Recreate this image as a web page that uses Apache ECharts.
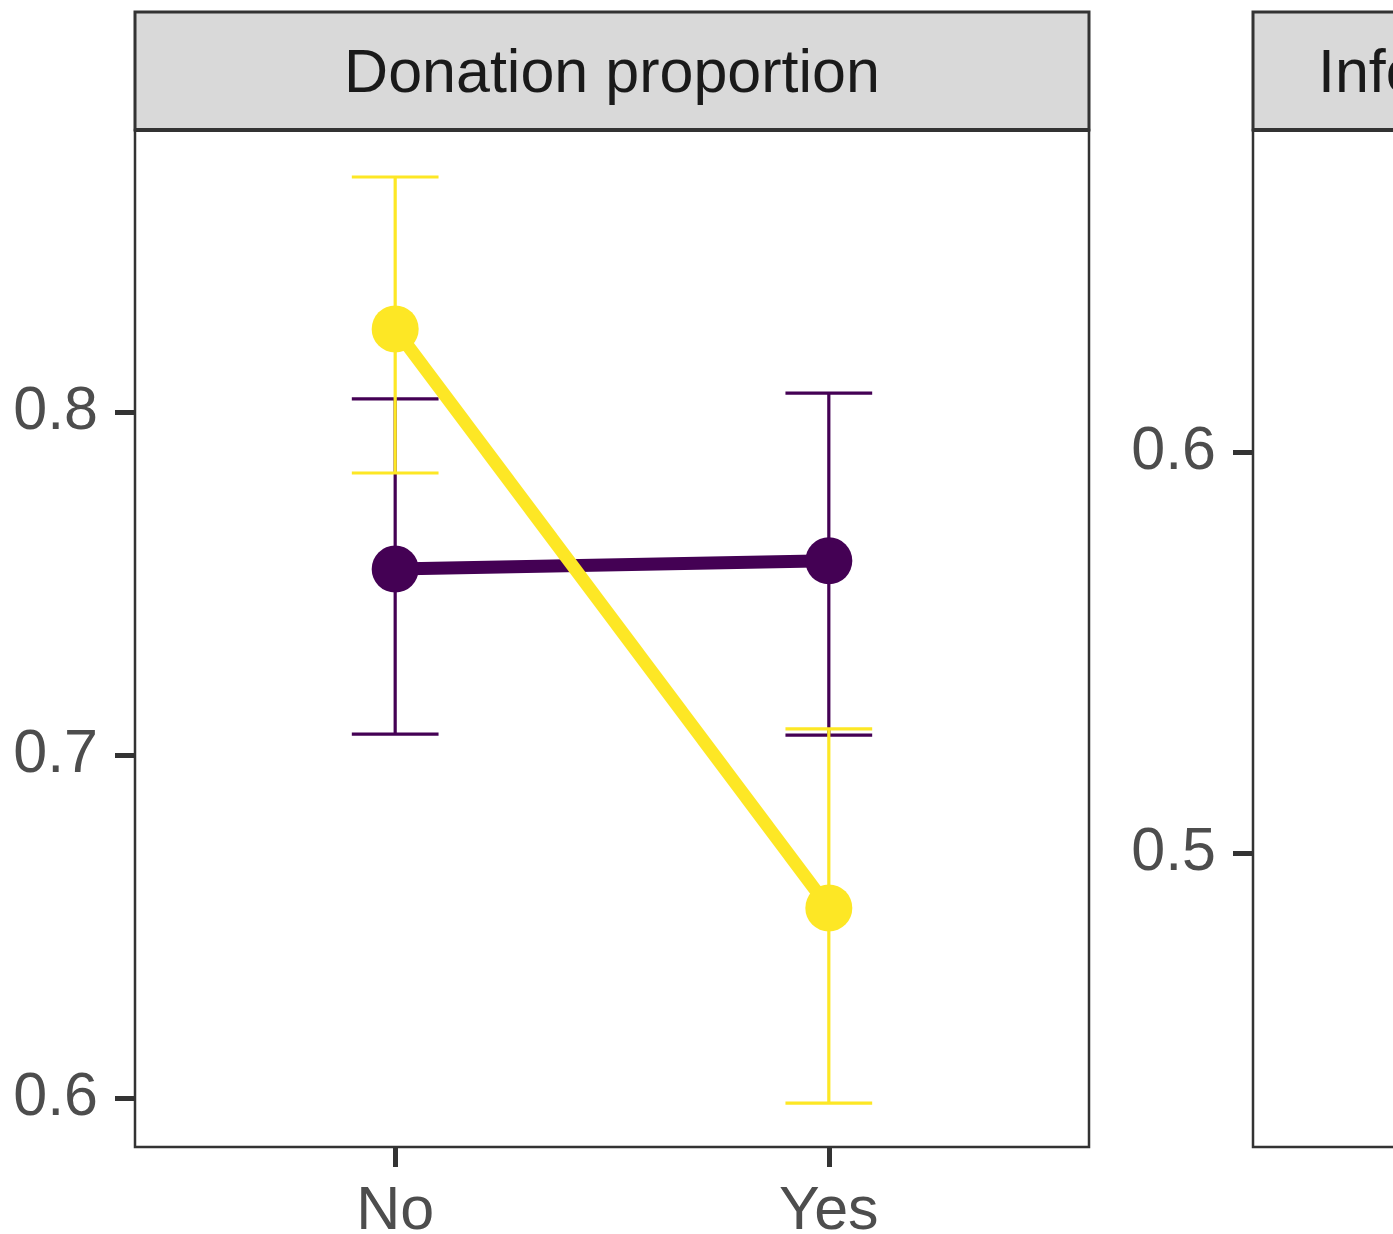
<!DOCTYPE html>
<html>
<head>
<meta charset="utf-8">
<style>
html,body{margin:0;padding:0;background:#fff;}
#chart{width:1393px;height:1234px;}
</style>
<script src="https://cdn.jsdelivr.net/npm/echarts@6/dist/echarts.min.js"></script>
</head>
<body>
<div id="chart"></div>
<script>
// ---- data ----
var categories = ['No', 'Yes'];
var panelTitles = ['Donation proportion', 'Information'];
var groupColors = ['#440154', '#FDE725'];
// group A (purple)
var meanA = [0.7542, 0.7566];
var lowA  = [0.7061, 0.7058];
var highA = [0.8038, 0.8055];
// group B (yellow)
var meanB = [0.8242, 0.6554];
var lowB  = [0.7822, 0.5985];
var highB = [0.8685, 0.7076];
// tick labels
var yTicks1 = [0.6, 0.7, 0.8];
var yTicks2 = [0.5, 0.6];

var chart = echarts.init(document.getElementById('chart'));
var FONT = 'Liberation Sans, Arial, Helvetica, sans-serif';

function errData(low, high) {
  return categories.map(function (c, i) { return [i + 1, low[i], high[i]]; });
}
function meanData(mean) {
  return categories.map(function (c, i) { return [i + 1, mean[i]]; });
}
function errSeries(low, high, color) {
  return {
    type: 'custom', xAxisIndex: 0, yAxisIndex: 0, z: 2,
    data: errData(low, high),
    encode: { x: 0, y: [1, 2] },
    renderItem: function (params, api) {
      var x = api.value(0);
      var lo = api.coord([x, api.value(1)]);
      var hi = api.coord([x, api.value(2)]);
      var w = api.size([0.2, 0])[0];
      var st = { stroke: color, lineWidth: 3.2 };
      return { type: 'group', children: [
        { type: 'line', shape: { x1: lo[0], y1: lo[1], x2: hi[0], y2: hi[1] }, style: st },
        { type: 'line', shape: { x1: hi[0] - w / 2, y1: hi[1], x2: hi[0] + w / 2, y2: hi[1] }, style: st },
        { type: 'line', shape: { x1: lo[0] - w / 2, y1: lo[1], x2: lo[0] + w / 2, y2: lo[1] }, style: st }
      ]};
    }
  };
}
function lineSeries(mean, color) {
  return { type: 'line', xAxisIndex: 0, yAxisIndex: 0, z: 3, data: meanData(mean),
    showSymbol: false, symbol: 'none', lineStyle: { color: color, width: 13 }, silent: true, animation: false };
}
function pointSeries(mean, color) {
  return { type: 'scatter', xAxisIndex: 0, yAxisIndex: 0, z: 4, data: meanData(mean),
    symbol: 'circle', symbolSize: 47, itemStyle: { color: color, opacity: 1 }, animation: false };
}

var axisTickStyle = { show: true, inside: false, length: 20, lineStyle: { color: '#333333', width: 5 } };
function xAxis(gi, show) {
  return {
    type: 'value', gridIndex: gi, min: 0.4, max: 2.6,
    axisLine: { show: false }, splitLine: { show: false },
    axisTick: Object.assign({ customValues: [1, 2] }, axisTickStyle, { show: show }),
    axisLabel: { show: show, customValues: [1, 2], margin: 35, fontSize: 61, fontFamily: FONT, color: '#4d4d4d',
      formatter: function (v) { return categories[Math.round(v) - 1] || ''; } }
  };
}
function yAxis(gi, min, max, ticks) {
  return {
    type: 'value', gridIndex: gi, min: min, max: max,
    axisLine: { show: false }, splitLine: { show: false },
    axisTick: Object.assign({ customValues: ticks }, axisTickStyle),
    axisLabel: { show: true, customValues: ticks, margin: 37, fontSize: 61, fontFamily: FONT, color: '#4d4d4d',
      formatter: function (v) { return v.toFixed(1); } }
  };
}

var panelW = 954, panelTop = 130, panelH = 1017, stripTop = 12;
var lefts = [135, 1253];

var graphics = [];
lefts.forEach(function (l, i) {
  graphics.push({ type: 'rect', z: 10, shape: { x: l, y: stripTop, width: panelW, height: panelTop - stripTop },
    style: { fill: '#d9d9d9', stroke: '#333333', lineWidth: 3 } });
  graphics.push({ type: 'line', z: 11, shape: { x1: l, y1: panelTop, x2: l + panelW, y2: panelTop },
    style: { stroke: '#333333', lineWidth: 4 } });
});
graphics.push({ type: 'text', z: 12, x: lefts[0] + panelW / 2, y: 75,
  style: { text: panelTitles[0], fill: '#1a1a1a', font: '61px ' + FONT, textAlign: 'center', textVerticalAlign: 'middle' } });
graphics.push({ type: 'text', z: 12, x: 1318, y: 75,
  style: { text: panelTitles[1], fill: '#1a1a1a', font: '61px ' + FONT, textAlign: 'left', textVerticalAlign: 'middle' } });

chart.setOption({
  backgroundColor: '#ffffff',
  animation: false,
  grid: [
    { left: lefts[0], top: panelTop, width: panelW, height: panelH, show: true, borderColor: '#333333', borderWidth: 2.5, backgroundColor: '#fff', containLabel: false, outerBoundsMode: 'none' },
    { left: lefts[1], top: panelTop, width: panelW, height: panelH, show: true, borderColor: '#333333', borderWidth: 2.5, backgroundColor: '#fff', containLabel: false, outerBoundsMode: 'none' }
  ],
  xAxis: [xAxis(0, true), xAxis(1, false)],
  yAxis: [yAxis(0, 0.5857, 0.8822, yTicks1), yAxis(1, 0.4267, 0.6803, yTicks2)],
  graphic: graphics,
  series: [
    errSeries(lowA, highA, groupColors[0]),
    errSeries(lowB, highB, groupColors[1]),
    lineSeries(meanA, groupColors[0]),
    lineSeries(meanB, groupColors[1]),
    pointSeries(meanA, groupColors[0]),
    pointSeries(meanB, groupColors[1])
  ]
});
</script>
</body>
</html>
